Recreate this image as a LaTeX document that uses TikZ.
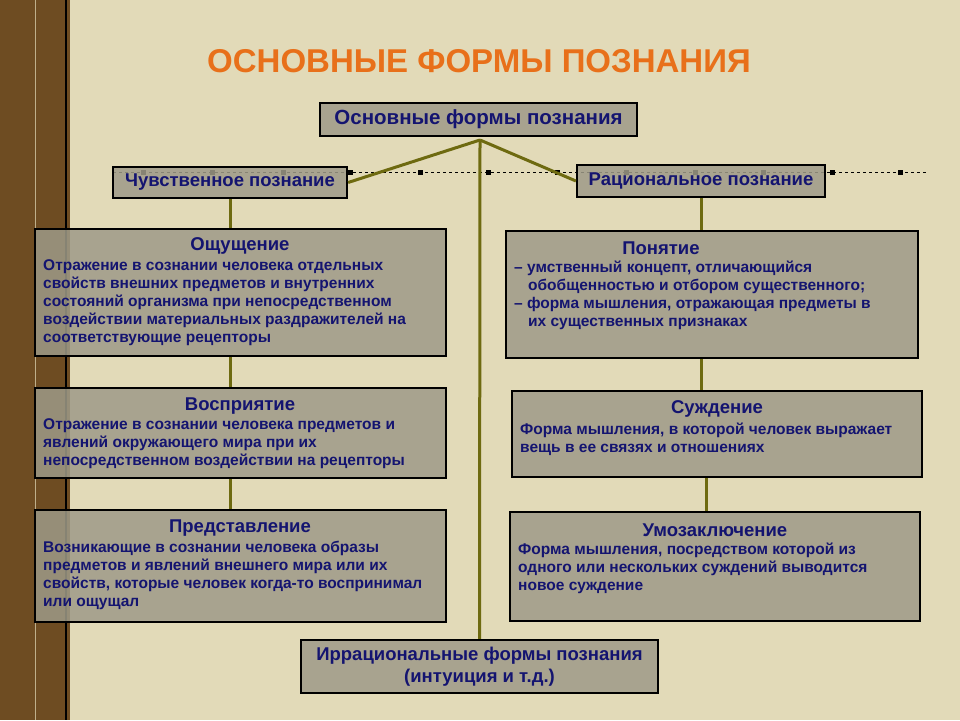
\documentclass[tikz,border=0pt]{standalone}
\usepackage{fontspec}
\setmainfont{Liberation Sans}
\usetikzlibrary{positioning}
\definecolor{paper}{HTML}{E2DAB8}
\definecolor{bark}{HTML}{6E4C22}
\definecolor{boxgray}{HTML}{9E9A88}
\definecolor{ink}{HTML}{141470}
\definecolor{olive}{HTML}{6E6A10}
\definecolor{orangey}{HTML}{E8701A}
\tikzset{
  card/.style={draw=black, line width=2.2pt, fill=boxgray, fill opacity=0.85, text opacity=1, inner sep=0pt},
  head/.style={text=ink, font=\bfseries\fontsize{18.5}{22}\selectfont},
  body/.style={text=ink, font=\bfseries\fontsize{15.5}{18}\selectfont, align=left, anchor=north west, inner sep=0pt},
  link/.style={olive, line width=3pt}
}
\begin{document}
\begin{tikzpicture}[x=1pt, y=-1pt]
	\useasboundingbox (0,0) rectangle (960,720);
	\fill[paper] (0,0) rectangle (960,720);
	\fill[bark] (0,0) rectangle (70,720);
	\draw[paper!70!bark, line width=1pt] (35,0) -- (35,720);
	\draw[black, line width=1.5pt] (66,0) -- (66,720);

	% title
	\node[font=\bfseries\fontsize{33}{38}\selectfont, text=orangey] (title) at (479,61) {ОСНОВНЫЕ ФОРМЫ ПОЗНАНИЯ};

	% guide line with handles
	\draw[dashed, line width=0.8pt] (113,172) -- (928,172);
	\foreach \x in {143,212,283,350,420,488,557,626,695,763,832,900}
		\fill (\x-2.5,169.5) rectangle (\x+2.5,174.5);

	% top level
	\node[card, minimum width=317, minimum height=33, head, font=\bfseries\fontsize{20.5}{24}\selectfont] (root) at (478.5,119.5) {Основные формы познания};
	\node[card, minimum width=234, minimum height=31, head] (sense) at (230,182.5) {Чувственное познание};
	\node[card, minimum width=248, minimum height=32, head] (ratio) at (701,181) {Рациональное познание};
	\node[card, minimum width=357, minimum height=53, head, align=center] (irr) at (479.5,666.5) {Иррациональные формы познания\\(интуиция и т.д.)};

	% left column
	\node[card, minimum width=411, minimum height=127] (feel) at (240.5,292.5) {};
	\node[card, minimum width=411, minimum height=90] (perc) at (240.5,433) {};
	\node[card, minimum width=411, minimum height=112] (repr) at (240.5,566) {};
	% right column
	\node[card, minimum width=412, minimum height=127] (concept) at (712,294.5) {};
	\node[card, minimum width=410, minimum height=86] (judge) at (717,434) {};
	\node[card, minimum width=410, minimum height=109] (infer) at (715,566.5) {};

	% connectors
	\coordinate (hub) at (480,140);
	\draw[link] (hub) -- (sense.east);
	\draw[link] (hub) -- (ratio.west);
	\draw[link] (hub) -- (irr.north);
	\draw[link] (sense.south) -- (feel.north -| sense.south);
	\draw[link] (feel.south -| sense.south) -- (perc.north -| sense.south);
	\draw[link] (perc.south -| sense.south) -- (repr.north -| sense.south);
	\draw[link] (ratio.south) -- (concept.north -| ratio.south);
	\draw[link] (concept.south -| ratio.south) -- (judge.north -| ratio.south);
	\draw[link] ([xshift=5]judge.south -| ratio.south) -- ([xshift=5]infer.north -| ratio.south);

	% texts
	\node[head] at (240,246) {Ощущение};
	\node[body] at (43,259) {Отражение в сознании человека отдельных\\свойств внешних предметов и внутренних\\состояний организма при непосредственном\\воздействии материальных раздражителей на\\соответствующие рецепторы};
	\node[head] at (240,406) {Восприятие};
	\node[body] at (43,418) {Отражение в сознании человека предметов и\\явлений окружающего мира при их\\непосредственном воздействии на рецепторы};
	\node[head] at (240,528) {Представление};
	\node[body] at (43,541) {Возникающие в сознании человека образы\\предметов и явлений внешнего мира или их\\свойств, которые человек когда-то воспринимал\\или ощущал};
	\node[head] at (661,248) {Понятие};
	\node[body] at (514,261) {– умственный концепт, отличающийся\\\hspace*{0.9em}обобщенностью и отбором существенного;\\– форма мышления, отражающая предметы в\\\hspace*{0.9em}их существенных признаках};
	\node[head] at (717,409) {Суждение};
	\node[body] at (520,423) {Форма мышления, в которой человек выражает\\вещь в ее связях и отношениях};
	\node[head] at (715,530) {Умозаключение};
	\node[body] at (518,543) {Форма мышления, посредством которой из\\одного или нескольких суждений выводится\\новое суждение};
\end{tikzpicture}
\end{document}
